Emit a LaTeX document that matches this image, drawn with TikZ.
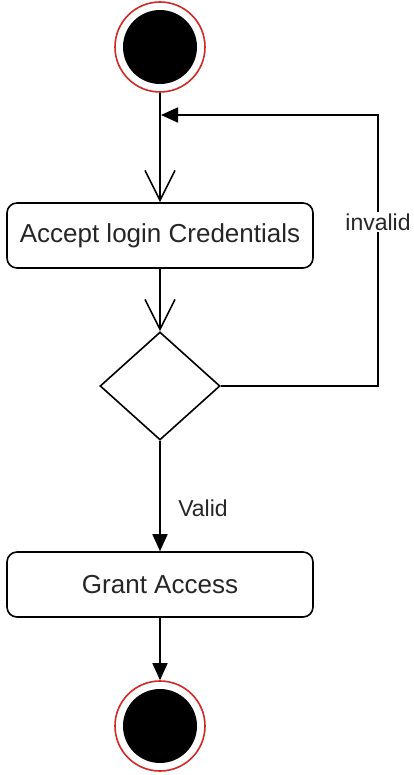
\documentclass[tikz,border=0pt]{standalone}
\usepackage{fontspec}
\setmainfont{Liberation Sans}
\usetikzlibrary{shapes.geometric,arrows.meta}
\definecolor{ringred}{RGB}{210,40,40}
\begin{document}
\begin{tikzpicture}[x=1pt,y=-1pt,
  line width=1.6pt,
  act/.style={draw, rounded corners=10pt, minimum width=306pt, minimum height=65pt, inner sep=0pt, text=black!85, font=\fontsize{26}{30}\selectfont},
  ring/.style={circle, draw=ringred, line width=1.6pt, minimum size=90pt, inner sep=0pt},
  dot/.style={circle, fill=black, minimum size=74pt, inner sep=0pt},
  dec/.style={diamond, draw, minimum width=120pt, minimum height=108pt, inner sep=0pt, aspect=1.11},
  openarr/.style={-{Straight Barb[length=30pt,width=30pt]}},
  filledarr/.style={-{Triangle[length=17pt,width=15pt]}},
  lbl/.style={font=\fontsize{23}{27}\selectfont, text=black!85, inner sep=2pt}
]
\useasboundingbox (0,0) rectangle (413,775);
\fill[white] (0,0) rectangle (413,775);
\node[ring] (start) at (160,47) {};
\node[dot] (startdot) at (160,47) {};
\node[act] (accept) at (160,235.5) {Accept login Credentials};
\node[dec] (dec) at (160,386) {};
\node[act] (grant) at (160,584.5) {Grant Access};
\node[ring] (end) at (160,726) {};
\node[dot] (enddot) at (160,726) {};
\coordinate (c1) at (378,386);
\coordinate (c2) at (378,115);
\coordinate (loopend) at (161,115);
\draw[openarr] (start) -- (accept);
\draw[openarr] (accept) -- (dec);
\draw[filledarr] (dec.east) -- (c1) -- (c2) -- (loopend);
\node[lbl, fill=white] (inv) at (378,222) {invalid};
\draw[filledarr] (dec) -- (grant);
\node[lbl] (val) at (203,508) {Valid};
\draw[filledarr] (grant) -- (end);
\end{tikzpicture}
\end{document}
